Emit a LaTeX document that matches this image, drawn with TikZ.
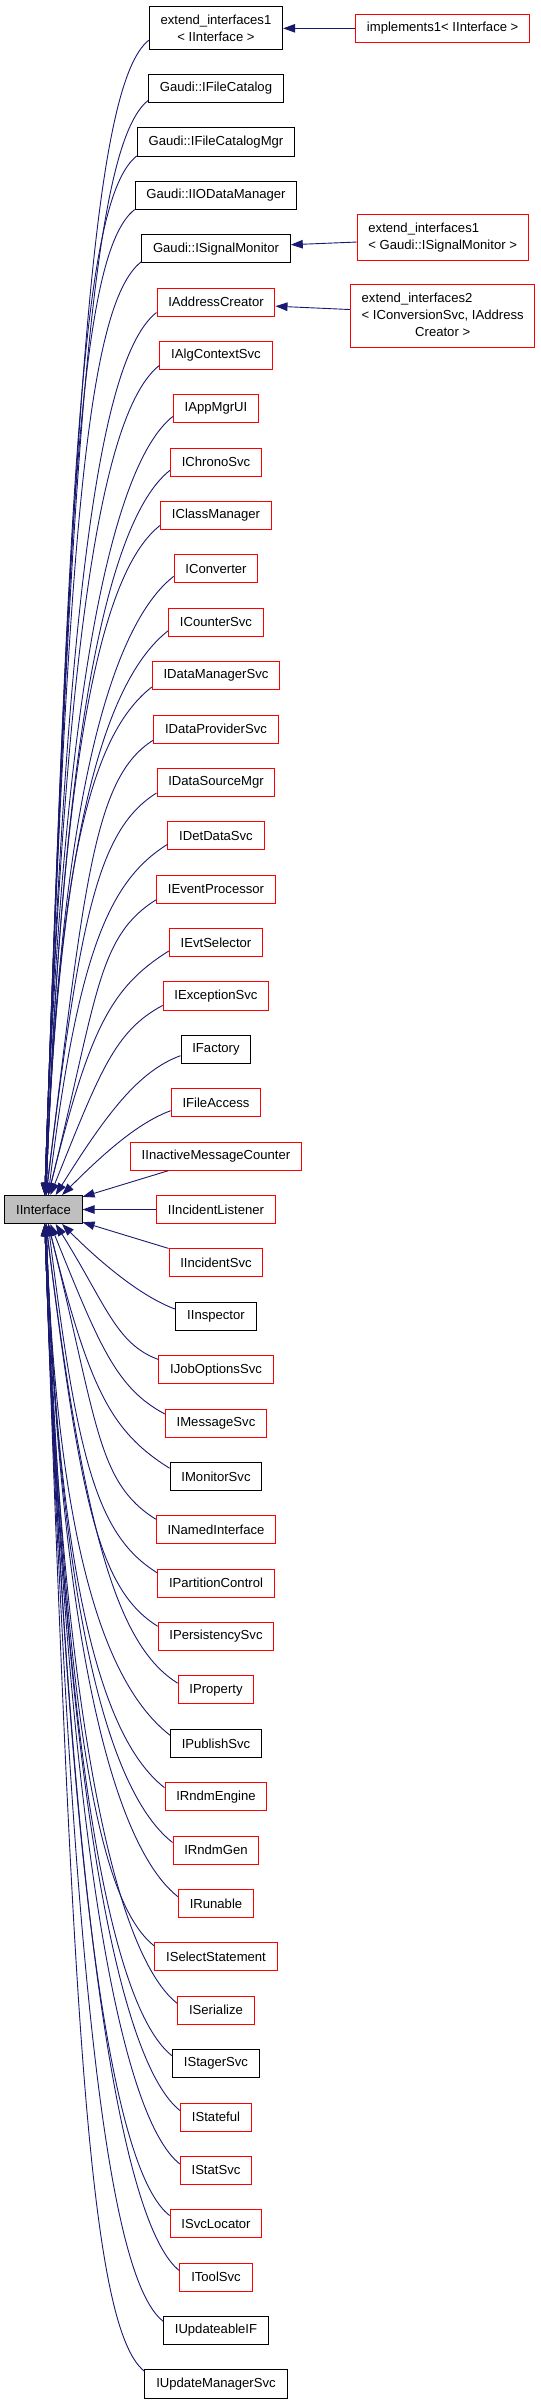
\documentclass[tikz,border=0pt]{standalone}
\usepackage{fontspec}
\setmainfont{Liberation Sans}
\usetikzlibrary{arrows.meta}
\definecolor{midnightblue}{HTML}{191970}
% picture is drawn at 1/10 size (1 unit = 0.1pt) to keep long curves small
\tikzset{
  blackbox/.style={draw=black, line width=0.1pt, font=\fontsize{1.31}{1.74}\selectfont,
    minimum height=2.8pt, inner xsep=1.13pt, inner ysep=0.8pt},
  redbox/.style={blackbox, draw=red},
  rootbox/.style={blackbox, fill=black!25},
  inherit/.style={draw=midnightblue, line width=0.09pt, -{Triangle[length=1.2pt,width=0.85pt]}}
}
\begin{document}
\begin{tikzpicture}[x=0.1pt,y=0.1pt]
\useasboundingbox (0,0) rectangle (541,-2403);

% Base class
\node[rootbox] (iinterface) at (43.5,-1209.5) {IInterface};

% Derived classes
\node[blackbox, align=center] (ext1ii) at (216,-28.3) {extend\_interfaces1\\< IInterface >};
\node[blackbox] (filecat) at (216,-88.5) {Gaudi::IFileCatalog};
\node[blackbox] (filecatmgr) at (216,-141.9) {Gaudi::IFileCatalogMgr};
\node[blackbox] (iodatamgr) at (216,-195.2) {Gaudi::IIODataManager};
\node[blackbox] (sigmon) at (216,-248.6) {Gaudi::ISignalMonitor};
\node[redbox] (addrcreator) at (216,-302.0) {IAddressCreator};
\node[redbox] (algctx) at (216,-355.4) {IAlgContextSvc};
\node[redbox] (appmgr) at (216,-408.8) {IAppMgrUI};
\node[redbox] (chrono) at (216,-462.2) {IChronoSvc};
\node[redbox] (classmgr) at (216,-515.5) {IClassManager};
\node[redbox] (converter) at (216,-568.9) {IConverter};
\node[redbox] (counter) at (216,-622.3) {ICounterSvc};
\node[redbox] (datamgr) at (216,-675.7) {IDataManagerSvc};
\node[redbox] (dataprov) at (216,-729.1) {IDataProviderSvc};
\node[redbox] (datasrc) at (216,-782.5) {IDataSourceMgr};
\node[redbox] (detdata) at (216,-835.8) {IDetDataSvc};
\node[redbox] (evtproc) at (216,-889.2) {IEventProcessor};
\node[redbox] (evtsel) at (216,-942.6) {IEvtSelector};
\node[redbox] (exception) at (216,-996.0) {IExceptionSvc};
\node[blackbox] (factory) at (216,-1049.4) {IFactory};
\node[redbox] (fileaccess) at (216,-1102.7) {IFileAccess};
\node[redbox] (inactive) at (216,-1156.1) {IInactiveMessageCounter};
\node[redbox] (inclistener) at (216,-1209.5) {IIncidentListener};
\node[redbox] (incsvc) at (216,-1262.9) {IIncidentSvc};
\node[blackbox] (inspector) at (216,-1316.3) {IInspector};
\node[redbox] (jobopts) at (216,-1369.6) {IJobOptionsSvc};
\node[redbox] (msgsvc) at (216,-1423.0) {IMessageSvc};
\node[blackbox] (monitor) at (216,-1476.4) {IMonitorSvc};
\node[redbox] (named) at (216,-1529.8) {INamedInterface};
\node[redbox] (partition) at (216,-1583.2) {IPartitionControl};
\node[redbox] (persist) at (216,-1636.5) {IPersistencySvc};
\node[redbox] (property) at (216,-1689.9) {IProperty};
\node[blackbox] (publish) at (216,-1743.3) {IPublishSvc};
\node[redbox] (rndmeng) at (216,-1796.7) {IRndmEngine};
\node[redbox] (rndmgen) at (216,-1850.1) {IRndmGen};
\node[redbox] (runable) at (216,-1903.4) {IRunable};
\node[redbox] (selstmt) at (216,-1956.8) {ISelectStatement};
\node[redbox] (serialize) at (216,-2010.2) {ISerialize};
\node[blackbox] (stager) at (216,-2063.6) {IStagerSvc};
\node[redbox] (stateful) at (216,-2117.0) {IStateful};
\node[redbox] (statsvc) at (216,-2170.3) {IStatSvc};
\node[redbox] (svcloc) at (216,-2223.7) {ISvcLocator};
\node[redbox] (toolsvc) at (216,-2277.1) {IToolSvc};
\node[blackbox] (updif) at (216,-2330.5) {IUpdateableIF};
\node[blackbox] (updmgr) at (216,-2383.9) {IUpdateManagerSvc};

% Second level
\node[redbox] (impl1) at (442.7,-28.3) {implements1< IInterface >};
\node[redbox, align=left] (ext1sig) at (442.7,-237.5) {extend\_interfaces1\\< Gaudi::ISignalMonitor >};
\node[redbox, inner ysep=0.525pt] (ext2) at (442.7,-316) {\begin{tabular}{@{}l@{}}extend\_interfaces2\\< IConversionSvc, IAddress\\\multicolumn{1}{@{}c@{}}{Creator >}\end{tabular}};

\draw[inherit] (impl1.west) -- (ext1ii.east);
\draw[inherit] (ext1sig.183) -- (sigmon.3);
\draw[inherit] (ext2.176) -- (addrcreator.-4);

% Edges from above
\draw[inherit] (ext1ii.190) to[out=218,in=88,out distance=7pt,in distance=79.5pt] (iinterface.85);
\draw[inherit] (filecat.190) to[out=218,in=88,out distance=7pt,in distance=75.8pt] (iinterface.85);
\draw[inherit] (filecatmgr.190) to[out=218,in=88,out distance=7pt,in distance=72.1pt] (iinterface.85);
\draw[inherit] (iodatamgr.190) to[out=218,in=88,out distance=7pt,in distance=68.4pt] (iinterface.85);
\draw[inherit] (sigmon.190) to[out=218,in=88,out distance=7pt,in distance=64.7pt] (iinterface.85);
\draw[inherit] (addrcreator.190) to[out=218,in=88,out distance=7pt,in distance=61.1pt] (iinterface.85);
\draw[inherit] (algctx.190) to[out=218,in=88,out distance=7pt,in distance=57.4pt] (iinterface.85);
\draw[inherit] (appmgr.190) to[out=218,in=88,out distance=7pt,in distance=53.7pt] (iinterface.85);
\draw[inherit] (chrono.190) to[out=218,in=88,out distance=7pt,in distance=50pt] (iinterface.80);
\draw[inherit] (classmgr.190) to[out=218,in=88,out distance=7pt,in distance=46.3pt] (iinterface.80);
\draw[inherit] (converter.190) to[out=218,in=88,out distance=7pt,in distance=42.6pt] (iinterface.80);
\draw[inherit] (counter.190) to[out=218,in=88,out distance=7pt,in distance=39pt] (iinterface.80);
\draw[inherit] (datamgr.190) to[out=218,in=88,out distance=7pt,in distance=35.3pt] (iinterface.80);
\draw[inherit] (dataprov.190) to[out=212,in=83,out distance=7pt,in distance=31.6pt] (iinterface.80);
\draw[inherit] (datasrc.190) to[out=212,in=83,out distance=7pt,in distance=27.9pt] (iinterface.80);
\draw[inherit] (detdata.190) to[out=212,in=83,out distance=7pt,in distance=24.2pt] (iinterface.72);
\draw[inherit] (evtproc.190) to[out=212,in=76,out distance=7pt,in distance=20.5pt] (iinterface.72);
\draw[inherit] (evtsel.190) to[out=212,in=76,out distance=7pt,in distance=16.9pt] (iinterface.72);
\draw[inherit] (exception.190) to[out=208,in=68,out distance=5.5pt,in distance=13.2pt] (iinterface.65);
\draw[inherit] (factory.190) to[out=200,in=58,out distance=4.5pt,in distance=9.5pt] (iinterface.50);
\draw[inherit] (fileaccess.190) to[out=200,in=45,out distance=3.5pt,in distance=5.8pt] (iinterface.38);
\draw[inherit] (inactive.197) -- (iinterface.18);
\draw[inherit] (inclistener.west) -- (iinterface.east);

% Edges from below
\draw[inherit] (incsvc.163) -- (iinterface.-18);
\draw[inherit] (inspector.170) to[out=160,in=-45,out distance=3.5pt,in distance=5.8pt] (iinterface.-38);
\draw[inherit] (jobopts.170) to[out=160,in=-58,out distance=4.5pt,in distance=9.5pt] (iinterface.-50);
\draw[inherit] (msgsvc.170) to[out=152,in=-68,out distance=5.5pt,in distance=13.2pt] (iinterface.-65);
\draw[inherit] (monitor.170) to[out=148,in=-76,out distance=7pt,in distance=16.9pt] (iinterface.-72);
\draw[inherit] (named.170) to[out=148,in=-76,out distance=7pt,in distance=20.5pt] (iinterface.-72);
\draw[inherit] (partition.170) to[out=148,in=-83,out distance=7pt,in distance=24.2pt] (iinterface.-72);
\draw[inherit] (persist.170) to[out=148,in=-83,out distance=7pt,in distance=27.9pt] (iinterface.-80);
\draw[inherit] (property.170) to[out=148,in=-83,out distance=7pt,in distance=31.6pt] (iinterface.-80);
\draw[inherit] (publish.170) to[out=142,in=-88,out distance=7pt,in distance=35.3pt] (iinterface.-80);
\draw[inherit] (rndmeng.170) to[out=142,in=-88,out distance=7pt,in distance=39pt] (iinterface.-80);
\draw[inherit] (rndmgen.170) to[out=142,in=-88,out distance=7pt,in distance=42.6pt] (iinterface.-80);
\draw[inherit] (runable.170) to[out=142,in=-88,out distance=7pt,in distance=46.3pt] (iinterface.-80);
\draw[inherit] (selstmt.170) to[out=142,in=-88,out distance=7pt,in distance=50pt] (iinterface.-80);
\draw[inherit] (serialize.170) to[out=142,in=-88,out distance=7pt,in distance=53.7pt] (iinterface.-85);
\draw[inherit] (stager.170) to[out=142,in=-88,out distance=7pt,in distance=57.4pt] (iinterface.-85);
\draw[inherit] (stateful.170) to[out=142,in=-88,out distance=7pt,in distance=61.1pt] (iinterface.-85);
\draw[inherit] (statsvc.170) to[out=142,in=-88,out distance=7pt,in distance=64.7pt] (iinterface.-85);
\draw[inherit] (svcloc.170) to[out=142,in=-88,out distance=7pt,in distance=68.4pt] (iinterface.-85);
\draw[inherit] (toolsvc.170) to[out=142,in=-88,out distance=7pt,in distance=72.1pt] (iinterface.-85);
\draw[inherit] (updif.170) to[out=142,in=-88,out distance=7pt,in distance=75.8pt] (iinterface.-85);
\draw[inherit] (updmgr.170) to[out=142,in=-88,out distance=7pt,in distance=79.5pt] (iinterface.-85);
\end{tikzpicture}
\end{document}
